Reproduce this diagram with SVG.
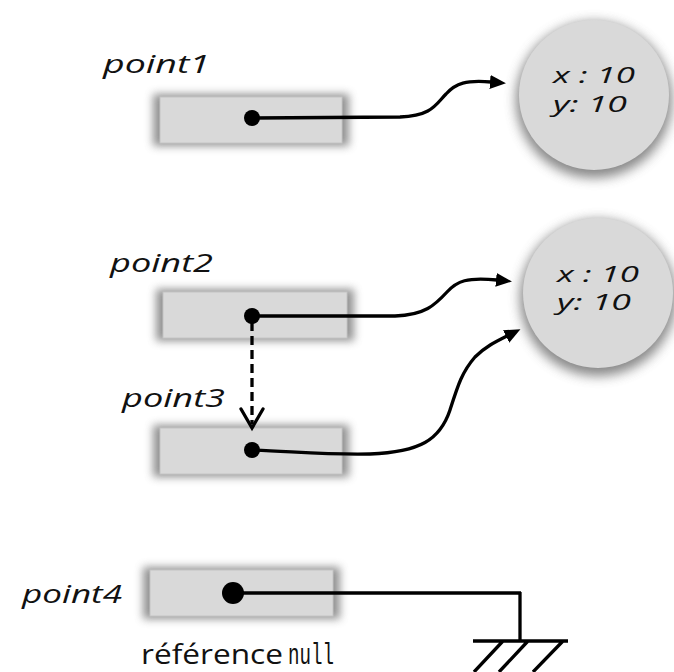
<svg xmlns="http://www.w3.org/2000/svg" width="674" height="672" viewBox="0 0 674 672">
  <defs>
    <filter id="soft" x="-30%" y="-60%" width="160%" height="220%">
      <feGaussianBlur stdDeviation="4"/>
    </filter>
    <filter id="softRound" x="-30%" y="-30%" width="160%" height="160%">
      <feGaussianBlur stdDeviation="6"/>
    </filter>
    <marker id="arrow" viewBox="0 0 16 14" refX="1" refY="7" markerWidth="16" markerHeight="14" markerUnits="userSpaceOnUse" orient="auto">
      <path d="M0,0 L16,7 L0,14 z" fill="#000"/>
    </marker>
    <style>
      .box { fill: #d9d9d9; stroke: #c4c4c4; stroke-width: 1; }
      .box-shadow { fill: #6e6e6e; opacity: 0.75; filter: url(#soft); }
      .obj { fill: #d9d9d9; }
      .obj-shadow { fill: #6a6a6a; opacity: 0.8; filter: url(#softRound); }
      .hand { font-family: "Open Sans", "Noto Sans", sans-serif; font-style: italic; font-size: 25px; fill: #111; }
      .val { font-family: "Open Sans", "Noto Sans", sans-serif; font-style: italic; font-size: 22px; fill: #111; }
      .note { font-family: "Open Sans", "Liberation Sans", sans-serif; font-size: 27px; fill: #111; }
      .mono { font-family: "Liberation Mono", "DejaVu Sans Mono", monospace; font-size: 30px; }
      .wire { fill: none; stroke: #000; stroke-width: 3.3; stroke-linecap: round; }
      .dot { fill: #000; }
    </style>
  </defs>

  <rect width="674" height="672" fill="#fff"/>

  <!-- variable: point1 -->
  <g id="point1">
    <rect class="box-shadow" x="153" y="94" width="196" height="52"/>
    <rect class="box" x="160" y="97" width="182" height="46"/>
    <text class="hand" x="103" y="73" textLength="107" lengthAdjust="spacingAndGlyphs">point1</text>
  </g>

  <!-- object referenced by point1 -->
  <g id="object1">
    <circle class="obj-shadow" cx="594" cy="100" r="78"/>
    <circle class="obj" cx="594" cy="95" r="75"/>
    <text class="val" x="553" y="83" textLength="82" lengthAdjust="spacingAndGlyphs">x : 10</text>
    <text class="val" x="553" y="112" textLength="74" lengthAdjust="spacingAndGlyphs">y: 10</text>
  </g>

  <!-- variable: point2 -->
  <g id="point2">
    <rect class="box-shadow" x="156" y="289" width="198" height="52"/>
    <rect class="box" x="163" y="292" width="184" height="46"/>
    <text class="hand" x="110" y="272" textLength="103" lengthAdjust="spacingAndGlyphs">point2</text>
  </g>

  <!-- variable: point3 -->
  <g id="point3">
    <rect class="box-shadow" x="153" y="425" width="196" height="52"/>
    <rect class="box" x="160" y="428" width="182" height="46"/>
    <text class="hand" x="122" y="407" textLength="103" lengthAdjust="spacingAndGlyphs">point3</text>
  </g>

  <!-- object shared by point2 and point3 -->
  <g id="object2">
    <circle class="obj-shadow" cx="598" cy="298" r="78"/>
    <circle class="obj" cx="598" cy="293" r="75"/>
    <text class="val" x="557" y="282" textLength="82" lengthAdjust="spacingAndGlyphs">x : 10</text>
    <text class="val" x="557" y="310" textLength="74" lengthAdjust="spacingAndGlyphs">y: 10</text>
  </g>

  <!-- variable: point4 -->
  <g id="point4">
    <rect class="box-shadow" x="143" y="567" width="197" height="52"/>
    <rect class="box" x="150" y="570" width="183" height="46"/>
    <text class="hand" x="22" y="603" textLength="100" lengthAdjust="spacingAndGlyphs">point4</text>
    <text class="note" x="141" y="664"><tspan textLength="142" lengthAdjust="spacingAndGlyphs">référence</tspan><tspan class="mono" x="288" textLength="46" lengthAdjust="spacingAndGlyphs">null</tspan></text>
  </g>

  <!-- ground symbol for the null reference -->
  <g id="ground">
    <path class="wire" style="stroke-linecap:butt" d="M520,592 L520,641 M473,641 L568,641 M503,641 L474,672 M528,641 L499,672 M563,641 L533,672"/>
  </g>

  <!-- references -->
  <g id="connectors">
    <path class="wire" d="M252,118 L400,117 C432,116 436,104 446,94 C456,83 466,80 491,82" marker-end="url(#arrow)"/>
    <circle class="dot" cx="252" cy="118" r="8"/>

    <path class="wire" d="M252,316 L395,316 C425,315 435,305 447,292 C457,281 467,277 497,280" marker-end="url(#arrow)"/>
    <circle class="dot" cx="252" cy="316" r="8"/>

    <path class="wire" d="M252,450 C300,452 330,455 370,454 C420,452 440,440 450,410 C458,385 462,372 475,357 C485,347 495,342 507,336" marker-end="url(#arrow)"/>
    <circle class="dot" cx="252" cy="450" r="8"/>

    <!-- copy of the reference: point2 to point3 -->
    <path class="wire" style="stroke-linecap:butt" d="M252,322 L252,424" stroke-dasharray="9 5"/>
    <polyline class="wire" points="241,409 252,428 263,409"/>

    <!-- point4 holds null -->
    <path class="wire" style="stroke-linecap:butt" d="M233,593 L521,593"/>
    <circle class="dot" cx="233" cy="593" r="11"/>
  </g>
</svg>
